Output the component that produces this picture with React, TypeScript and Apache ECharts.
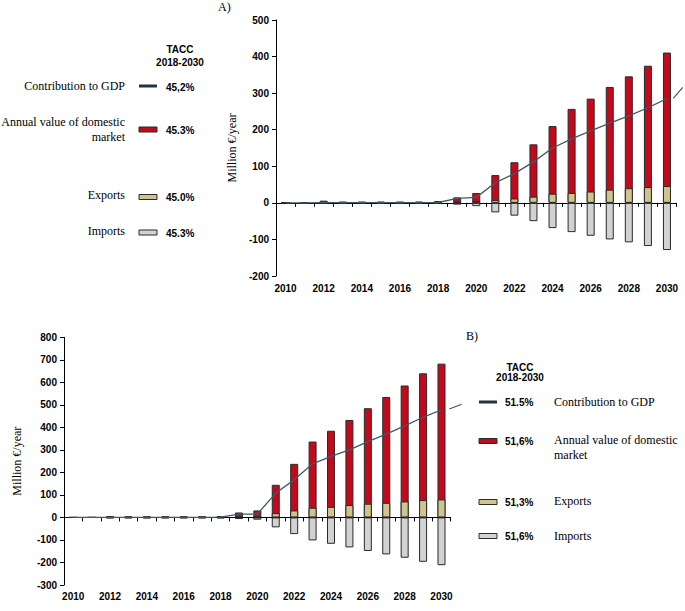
import React, { useEffect, useRef } from "react";
import * as echarts from "echarts";

const years = ["2010","2011","2012","2013","2014","2015","2016","2017","2018","2019","2020","2021","2022","2023","2024","2025","2026","2027","2028","2029","2030"];

// Panel A
const marketA = [0, 0, 6, 3.5, 3.5, 3.5, 3.5, 3.5, 5, 15, 27, 76, 111, 160, 210, 257, 285, 317, 346, 375, 411];
const exportsA = [0, 0, 1, 0.5, 0.5, 0.5, 0.5, 0.5, 1, 3, 5, 8, 12, 17, 25, 27, 31, 36, 40, 43, 46];
const importsA = [0, 0, -3, -2.5, -2.5, -2.5, -2.5, -2.5, -3, -5, -9, -26, -35, -50, -69, -80, -90, -100, -108, -118, -129];
const gdpA = [0, 0, 0.5, 0.5, 0.5, 0.5, 0.5, 0.5, 1, 12, 15, 55, 80, 112, 150, 175, 197, 218, 238, 260, 285];
const taccA = ["45,2%", "45.3%", "45.0%", "45.3%"];

// Panel B
const marketB = [0, 0, 6, 5, 5, 5, 5, 5, 6, 22, 31, 145, 238, 337, 385, 433, 485, 535, 586, 640, 683];
const exportsB = [0, 0, 1, 0.5, 0.5, 0.5, 0.5, 0.5, 1, 4, 6, 19, 31, 43, 47, 55, 61, 65, 71, 77, 80];
const importsB = [0, 0, -4, -4, -4, -4, -4, -4, -4, -7, -10, -44, -74, -102, -117, -133, -149, -164, -179, -197, -212];
const gdpB = [0, 0, 0.5, 0.5, 0.5, 0.5, 0.5, 0.5, 1, 15, 15, 108, 167, 238, 271, 300, 337, 370, 407, 445, 478];
const taccB = ["51.5%", "51,6%", "51,3%", "51,6%"];

const RED = "#C20A1C";
const TAN = "#CFC38E";
const GREY = "#D2D2D2";
const LINE = "#3E5A66";
const BORDER = "#2a2a2a";
const SANS = "Liberation Sans, Arial, sans-serif";
const SERIF = "Liberation Serif, Times New Roman, serif";

const axisLabelStyle = { fontWeight: "bold" as const, fontSize: 10, fontFamily: SANS, color: "#000" };

function xAxes(gi: number, margin: number) {
  return [
    {
      gridIndex: gi, type: "category", data: years, position: "bottom",
      axisLine: { show: true, onZero: true, lineStyle: { color: "#000", width: 1 } },
      axisTick: { show: true, length: 4, interval: 0, lineStyle: { color: "#000" } },
      axisLabel: { show: false },
    },
    {
      gridIndex: gi, type: "category", data: years, position: "bottom",
      axisLine: { show: false, onZero: false },
      axisTick: { show: false },
      axisLabel: { ...axisLabelStyle, interval: 1, margin },
    },
  ];
}

function yAxis(gi: number, min: number, max: number, nameGap: number) {
  return {
    gridIndex: gi, type: "value", min, max, interval: 100,
    axisLine: { show: true, onZero: false, lineStyle: { color: "#000", width: 1 } },
    axisTick: { show: true, length: 4, lineStyle: { color: "#000" } },
    splitLine: { show: false },
    axisLabel: { ...axisLabelStyle, margin: 7 },
    name: "Million €/year", nameLocation: "middle", nameGap,
    nameTextStyle: { fontFamily: SERIF, fontSize: 12, color: "#000" },
  };
}

function seriesFor(xi: number, yi: number, market: number[], exp: number[], imp: number[], gdp: number[]) {
  const bar = (name: string, data: number[], color: string) => ({
    name, type: "bar", xAxisIndex: xi, yAxisIndex: yi, data, barWidth: 8, barGap: "-100%",
    itemStyle: { color, borderColor: BORDER, borderWidth: 1 },
  });
  return [
    bar("Annual value of domestic market", market, RED),
    bar("Exports", exp, TAN),
    bar("Imports", imp, GREY),
    {
      name: "Contribution to GDP", type: "line", xAxisIndex: xi, yAxisIndex: yi, data: gdp,
      symbol: "none", lineStyle: { color: LINE, width: 1.3 }, z: 5,
    },
  ];
}

function txt(text: string, x: number, y: number, font: string, align: string) {
  return {
    type: "text", z: 10,
    style: { text, x, y, font, fill: "#000", textAlign: align, textVerticalAlign: "middle", align, verticalAlign: "middle" },
  };
}

function swatch(x: number, y: number, color: string) {
  return { type: "rect", z: 10, shape: { x, y: y - 2.5, width: 18, height: 5 }, style: { fill: color, stroke: BORDER, lineWidth: 1 } };
}

function lineSwatch(x: number, y: number) {
  return { type: "rect", z: 10, shape: { x, y: y - 1.5, width: 18, height: 3 }, style: { fill: "#1F3542" } };
}

const serifFont = `12px ${SERIF}`;
const boldFont = `bold 10px ${SANS}`;

function legendA(): any[] {
  const sx = 139, px = 166, lx = 125;
  return [
    txt("TACC", 180, 49, boldFont, "center"),
    txt("2018-2030", 180, 62, boldFont, "center"),
    txt("Contribution to GDP", lx, 86, serifFont, "right"),
    lineSwatch(sx, 86),
    txt(taccA[0], px, 87, boldFont, "left"),
    txt("Annual value of domestic", lx, 122, serifFont, "right"),
    txt("market", lx, 137, serifFont, "right"),
    swatch(sx, 129.5, RED),
    txt(taccA[1], px, 130, boldFont, "left"),
    txt("Exports", lx, 195, serifFont, "right"),
    swatch(sx, 197, TAN),
    txt(taccA[2], px, 197, boldFont, "left"),
    txt("Imports", lx, 231, serifFont, "right"),
    swatch(sx, 232.5, GREY),
    txt(taccA[3], px, 233, boldFont, "left"),
    txt("A)", 218, 7, serifFont, "left"),
    { type: "line", z: 10, shape: { x1: 673.3, y1: 98.3, x2: 682.7, y2: 87.3 }, style: { stroke: LINE, lineWidth: 1.2 } },
  ];
}

function legendB(): any[] {
  const sx = 479, px = 505, lx = 554;
  return [
    txt("TACC", 520, 367, boldFont, "center"),
    txt("2018-2030", 520, 377, boldFont, "center"),
    lineSwatch(sx, 402),
    txt(taccB[0], px, 402, boldFont, "left"),
    txt("Contribution to GDP", lx, 402, serifFont, "left"),
    swatch(sx, 441, RED),
    txt(taccB[1], px, 441, boldFont, "left"),
    txt("Annual value of domestic", lx, 440, serifFont, "left"),
    txt("market", lx, 455, serifFont, "left"),
    swatch(sx, 502, TAN),
    txt(taccB[2], px, 502, boldFont, "left"),
    txt("Exports", lx, 501, serifFont, "left"),
    swatch(sx, 536, GREY),
    txt(taccB[3], px, 536, boldFont, "left"),
    txt("Imports", lx, 536, serifFont, "left"),
    txt("B)", 466, 336, serifFont, "left"),
    { type: "line", z: 10, shape: { x1: 449.3, y1: 409, x2: 461.7, y2: 404.3 }, style: { stroke: LINE, lineWidth: 1.2 } },
  ];
}

export default function App() {
  const ref = useRef<HTMLDivElement>(null);
  useEffect(() => {
    if (!ref.current) return;
    const chart = echarts.init(ref.current, undefined, { renderer: "svg" });
    chart.setOption({
      animation: false,
      backgroundColor: "#fff",
      grid: [
        { left: 276, right: 8.5, top: 20, bottom: 335, containLabel: false },
        { left: 64, right: 234.3, top: 337.3, bottom: 26, containLabel: false },
      ],
      xAxis: [...xAxes(0, 7), ...xAxes(1, 6)],
      yAxis: [yAxis(0, -200, 500, 32), yAxis(1, -300, 800, 41)],
      series: [
        ...seriesFor(0, 0, marketA, exportsA, importsA, gdpA),
        ...seriesFor(2, 1, marketB, exportsB, importsB, gdpB),
      ],
      graphic: [...legendA(), ...legendB()],
    });
    return () => chart.dispose();
  }, []);
  return <div ref={ref} style={{ position: "absolute", left: 0, top: 0, width: 685, height: 611 }} />;
}
